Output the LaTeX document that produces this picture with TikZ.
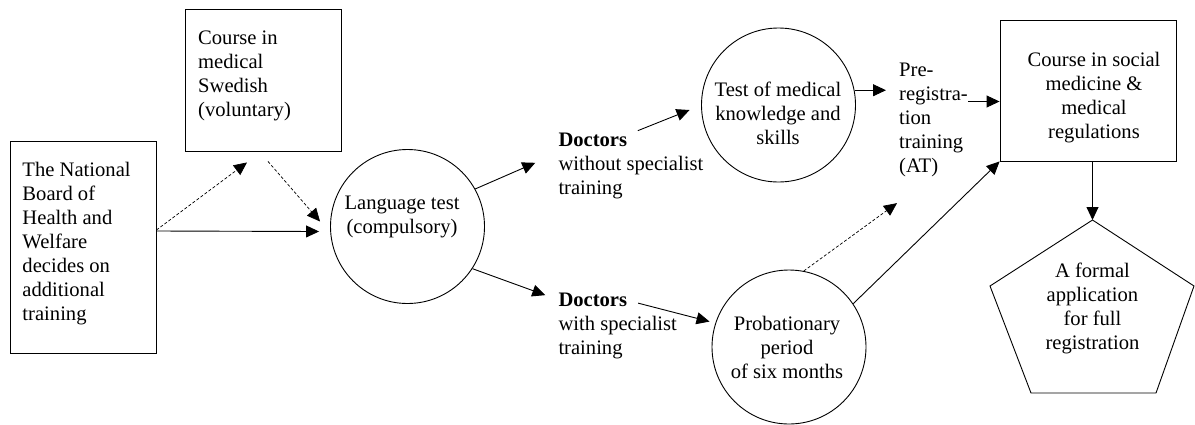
\documentclass[tikz,border=0pt]{standalone}
\usepackage{fontspec}
\setmainfont{Liberation Serif}
\usetikzlibrary{arrows.meta}
\begin{document}
\begin{tikzpicture}[x=1pt,y=-1pt,
  every node/.style={font=\fontsize{20.6}{24}\selectfont},
  boxshape/.style={draw, line width=0.9pt, inner sep=0pt, rectangle},
  circshape/.style={draw, line width=0.9pt, inner sep=0pt, circle, minimum size=154pt},
  txt/.style={inner sep=0pt},
  arr/.style={line width=0.9pt, -{Triangle[length=13pt,width=12pt]}},
  dasharr/.style={line width=0.7pt, dash pattern=on 3pt off 2pt, -{Triangle[length=13pt,width=12pt]}}
]
\useasboundingbox (0,0) rectangle (1195,424);

% decision box
\node[boxshape, minimum width=146pt, minimum height=212pt] (board) at (83,247) {};
\node[txt, align=left, anchor=west] (boardtext) at (22.3,243.3)
  {The National\\Board of\\Health and\\Welfare\\decides on\\additional\\training};

% voluntary course
\node[boxshape, minimum width=156pt, minimum height=142pt] (swedish) at (263,80) {};
\node[txt, align=left, anchor=west] (swedishtext) at (198,76.2)
  {Course in\\medical\\Swedish\\(voluntary)};

% language test
\node[circshape] (lang) at (407.5,226.5) {};
\node[txt, align=center] (langtext) at (402,217) {Language test\\(compulsory)};

% the two groups of doctors
\node[txt, align=left, anchor=west] (docA) at (558.3,165.8)
  {\textbf{Doctors}\\without specialist\\training};
\node[txt, align=left, anchor=west] (docB) at (558.3,326.3)
  {\textbf{Doctors}\\with specialist\\training};

% test and probation
\node[circshape] (test) at (778.5,105) {};
\node[txt, align=center] (testtext) at (778,113) {Test of medical\\knowledge and\\skills};
\node[circshape] (prob) at (789,347) {};
\node[txt, align=center] (probtext) at (787,347) {Probationary\\period\\of six months};

% pre-registration training
\node[txt, align=left, anchor=west] (prereg) at (899,119.5)
  {Pre-\\registra-\\tion\\training\\(AT)};

% final course
\node[boxshape, minimum width=176pt, minimum height=141pt] (social) at (1088,90.5) {};
\node[txt, align=center] (socialtext) at (1094,97.3)
  {Course in social\\medicine \&\\medical\\regulations};

% application pentagon
\coordinate (p1) at (1092.5,220);
\coordinate (p2) at (1194,286);
\coordinate (p3) at (1156,393);
\coordinate (p4) at (1031,393);
\coordinate (p5) at (990,286);
\draw[line width=0.9pt, line join=miter] (p1) -- (p2) -- (p3) -- (p4) -- (p5) -- cycle;
\node[txt, align=center] (formal) at (1092.5,308.3)
  {A formal\\application\\for full\\registration};

% connectors
\draw[arr] ([yshift=16pt]board.east) -- ([shift={(-11pt,-5pt)}]lang.west);
\draw[dasharr] ([yshift=17pt]board.east) -- ([shift={(-16pt,-11pt)}]swedish.south);
\draw[dasharr] ([shift={(5pt,-10pt)}]swedish.south) -- ([shift={(-10pt,5pt)}]lang.west);
\draw[arr] (lang.29) -- ([shift={(-23pt,3pt)}]docA.west);
\draw[arr] ([shift={(7pt,2pt)}]docA.north) -- ([shift={(-11.5pt,-5pt)}]test.west);
\draw[arr, shorten >=13pt] (test.11) -- (test.11 -| prereg.west);
\draw[arr] (lang.-33) -- ([shift={(-13pt,-2pt)}]docB.north west);
\draw[arr, shorten >=6pt] ([shift={(-39pt,-10pt)}]docB.north east) -- (prob.162);
\draw[dasharr] (prob.79) -- ([shift={(-2pt,-26.5pt)}]prereg.south west);
\draw[arr] (prob.34) -- (social.south west);
\coordinate (regline) at ([yshift=18pt]prereg.east);
\draw[arr] (regline) -- (regline -| social.west);
\draw[arr] (social.south -| p1) -- (p1);
\end{tikzpicture}
\end{document}
